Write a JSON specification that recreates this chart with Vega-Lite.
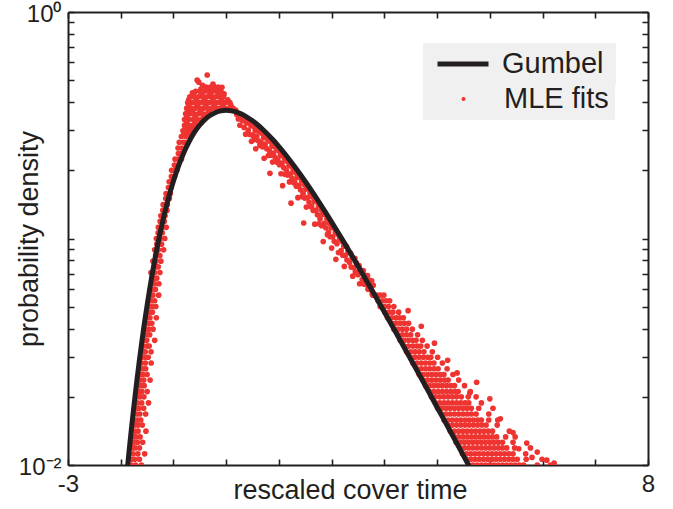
{
"$schema":"https://vega.github.io/schema/vega-lite/v6.json",
"width":580,"height":453,
"autosize":{"type":"none"},
"padding":{"left":68,"top":12,"right":25,"bottom":44},
"background":"white",
"config":{"view":{"stroke":null},
"axis":{"domainColor":"#231f20","domainWidth":2,"labelFont":"Liberation Sans","labelFontSize":24,"labelColor":"#231f20","zindex":1,"labelFlush":false,"labelOverlap":false,"labelBound":false,"titleFont":"Liberation Sans","titleFontSize":27,"titleFontWeight":"normal","titleColor":"#231f20"},
"legend":{"labelFont":"Liberation Sans","labelFontSize":29,"labelColor":"#231f20","fillColor":"#f0f0f0","strokeColor":null,"padding":6,"clipHeight":30,"title":null}},
"datasets":{
"curve":[{"x":-1.9,"y":0.00834},{"x":-1.87,"y":0.00988},{"x":-1.85,"y":0.0110},{"x":-1.8,"y":0.01426},{"x":-1.75,"y":0.01822},{"x":-1.7,"y":0.02297},{"x":-1.65,"y":0.02853},{"x":-1.6,"y":0.03498},{"x":-1.55,"y":0.04238},{"x":-1.5,"y":0.05071},{"x":-1.45,"y":0.06004},{"x":-1.4,"y":0.07028},{"x":-1.35,"y":0.0815},{"x":-1.3,"y":0.09354},{"x":-1.25,"y":0.1065},{"x":-1.2,"y":0.12},{"x":-1.15,"y":0.1343},{"x":-1.1,"y":0.149},{"x":-1.0,"y":0.1794},{"x":-0.9,"y":0.2102},{"x":-0.8,"y":0.2404},{"x":-0.7,"y":0.2688},{"x":-0.6,"y":0.2946},{"x":-0.5,"y":0.317},{"x":-0.4,"y":0.3356},{"x":-0.3,"y":0.35},{"x":-0.2,"y":0.3601},{"x":-0.1,"y":0.366},{"x":0,"y":0.3679},{"x":0.1,"y":0.3661},{"x":0.2,"y":0.3611},{"x":0.3,"y":0.3532},{"x":0.4,"y":0.3429},{"x":0.5,"y":0.3307},{"x":0.6,"y":0.317},{"x":0.7,"y":0.3022},{"x":0.8,"y":0.2867},{"x":0.9,"y":0.2708},{"x":1.0,"y":0.2546},{"x":1.1,"y":0.2386},{"x":1.2,"y":0.2229},{"x":1.3,"y":0.2075},{"x":1.4,"y":0.1927},{"x":1.5,"y":0.1785},{"x":1.6,"y":0.165},{"x":1.7,"y":0.1522},{"x":1.8,"y":0.1401},{"x":1.9,"y":0.1288},{"x":2.0,"y":0.1182},{"x":2.25,"y":0.0949},{"x":2.5,"y":0.0756},{"x":2.75,"y":0.06},{"x":3.0,"y":0.0474},{"x":3.25,"y":0.0373},{"x":3.5,"y":0.0293},{"x":3.75,"y":0.023},{"x":4.0,"y":0.018},{"x":4.25,"y":0.0141},{"x":4.5,"y":0.011},{"x":4.75,"y":0.00858}],
"pts":[
{"x":-1.797,"y":0.01},{"x":-1.717,"y":0.01},{"x":-1.607,"y":0.01},
{"x":-1.796,"y":0.0106},{"x":-1.736,"y":0.0106},{"x":-1.646,"y":0.0106},
{"x":-1.766,"y":0.0112},{"x":-1.676,"y":0.0112},{"x":-1.546,"y":0.0112},
{"x":-1.775,"y":0.0119},{"x":-1.725,"y":0.0119},{"x":-1.645,"y":0.0119},
{"x":-1.754,"y":0.0126},{"x":-1.684,"y":0.0126},{"x":-1.584,"y":0.0126},
{"x":-1.763,"y":0.0133},{"x":-1.713,"y":0.0133},{"x":-1.633,"y":0.0133},
{"x":-1.732,"y":0.0141},{"x":-1.672,"y":0.0141},{"x":-1.522,"y":0.0141},
{"x":-1.731,"y":0.015},{"x":-1.671,"y":0.015},{"x":-1.591,"y":0.015},
{"x":-1.73,"y":0.0158},{"x":-1.68,"y":0.0158},{"x":-1.62,"y":0.0158},
{"x":-1.698,"y":0.0168},{"x":-1.638,"y":0.0168},{"x":-1.528,"y":0.0168},
{"x":-1.705,"y":0.0178},{"x":-1.655,"y":0.0178},{"x":-1.565,"y":0.0178},
{"x":-1.683,"y":0.0188},{"x":-1.603,"y":0.0188},{"x":-1.473,"y":0.0188},
{"x":-1.68,"y":0.02},{"x":-1.63,"y":0.02},{"x":-1.56,"y":0.02},
{"x":-1.658,"y":0.0211},{"x":-1.598,"y":0.0211},{"x":-1.498,"y":0.0211},
{"x":-1.655,"y":0.0224},{"x":-1.615,"y":0.0224},{"x":-1.555,"y":0.0224},
{"x":-1.633,"y":0.0237},{"x":-1.563,"y":0.0237},{"x":-1.443,"y":0.0237},
{"x":-1.63,"y":0.0251},{"x":-1.58,"y":0.0251},{"x":-1.5,"y":0.0251},
{"x":-1.626,"y":0.0266},{"x":-1.576,"y":0.0266},{"x":-1.526,"y":0.0266},
{"x":-1.603,"y":0.0282},{"x":-1.533,"y":0.0282},{"x":-1.423,"y":0.0282},
{"x":-1.599,"y":0.0299},{"x":-1.539,"y":0.0299},{"x":-1.479,"y":0.0299},
{"x":-1.575,"y":0.0316},{"x":-1.535,"y":0.0316},{"x":-1.425,"y":0.0316},
{"x":-1.57,"y":0.0335},{"x":-1.5,"y":0.0335},{"x":-1.46,"y":0.0335},
{"x":-1.546,"y":0.0355},{"x":-1.506,"y":0.0355},{"x":-1.356,"y":0.0355},
{"x":-1.551,"y":0.0376},{"x":-1.501,"y":0.0376},{"x":-1.451,"y":0.0376},
{"x":-1.527,"y":0.0398},{"x":-1.467,"y":0.0398},{"x":-1.387,"y":0.0398},
{"x":-1.521,"y":0.0422},{"x":-1.471,"y":0.0422},{"x":-1.411,"y":0.0422},
{"x":-1.495,"y":0.0447},{"x":-1.445,"y":0.0447},{"x":-1.325,"y":0.0447},
{"x":-1.49,"y":0.0473},{"x":-1.45,"y":0.0473},{"x":-1.4,"y":0.0473},
{"x":-1.464,"y":0.0501},{"x":-1.404,"y":0.0501},{"x":-1.334,"y":0.0501},
{"x":-1.467,"y":0.0531},{"x":-1.417,"y":0.0531},{"x":-1.357,"y":0.0531},
{"x":-1.44,"y":0.0562},{"x":-1.39,"y":0.0562},{"x":-1.28,"y":0.0562},
{"x":-1.433,"y":0.0596},{"x":-1.393,"y":0.0596},{"x":-1.343,"y":0.0596},
{"x":-1.406,"y":0.0631},{"x":-1.356,"y":0.0631},{"x":-1.276,"y":0.0631},
{"x":-1.407,"y":0.0668},{"x":-1.367,"y":0.0668},{"x":-1.317,"y":0.0668},
{"x":-1.427,"y":0.0708},{"x":-1.357,"y":0.0708},{"x":-1.257,"y":0.0708},
{"x":-1.368,"y":0.075},{"x":-1.318,"y":0.075},{"x":-1.288,"y":0.075},
{"x":-1.389,"y":0.0794},{"x":-1.329,"y":0.0794},{"x":-1.239,"y":0.0794},
{"x":-1.338,"y":0.0841},{"x":-1.288,"y":0.0841},{"x":-1.258,"y":0.0841},
{"x":-1.357,"y":0.0891},{"x":-1.287,"y":0.0891},{"x":-1.187,"y":0.0891},
{"x":-1.316,"y":0.0944},{"x":-1.256,"y":0.0944},{"x":-1.226,"y":0.0944},
{"x":-1.325,"y":0.1},{"x":-1.245,"y":0.1},{"x":-1.165,"y":0.1},
{"x":-1.291,"y":0.106},{"x":-1.211,"y":0.106},
{"x":-1.287,"y":0.112},{"x":-1.207,"y":0.112},{"x":-1.137,"y":0.112},
{"x":-1.253,"y":0.119},{"x":-1.173,"y":0.119},
{"x":-1.239,"y":0.126},{"x":-1.159,"y":0.126},
{"x":-1.202,"y":0.133},{"x":-1.122,"y":0.133},
{"x":-1.195,"y":0.141},{"x":-1.115,"y":0.141},
{"x":-1.147,"y":0.15},{"x":-1.077,"y":0.15},
{"x":-1.14,"y":0.158},{"x":-1.06,"y":0.158},
{"x":-1.096,"y":0.168},{"x":-1.046,"y":0.168},
{"x":-1.082,"y":0.178},{"x":-1.022,"y":0.178},
{"x":-1.039,"y":0.188},{"x":-0.979,"y":0.188},
{"x":-1.035,"y":0.2},{"x":-0.975,"y":0.2},{"x":-0.935,"y":0.2},
{"x":-0.982,"y":0.211},{"x":-0.922,"y":0.211},
{"x":-0.969,"y":0.224},{"x":-0.899,"y":0.224},{"x":-0.849,"y":0.224},
{"x":-0.906,"y":0.237},{"x":-0.846,"y":0.237},
{"x":-0.913,"y":0.251},{"x":-0.843,"y":0.251},{"x":-0.783,"y":0.251},
{"x":-0.89,"y":0.266},{"x":-0.81,"y":0.266},{"x":-0.74,"y":0.266},
{"x":-0.85,"y":0.282},{"x":-0.77,"y":0.282},{"x":-0.69,"y":0.282},
{"x":-0.8,"y":0.29},{"x":-0.72,"y":0.29},
{"x":-0.82,"y":0.299},{"x":-0.74,"y":0.299},{"x":-0.66,"y":0.299},
{"x":-0.78,"y":0.307},{"x":-0.7,"y":0.307},{"x":-0.62,"y":0.307},
{"x":-0.79,"y":0.316},{"x":-0.71,"y":0.316},{"x":-0.63,"y":0.316},{"x":-0.55,"y":0.316},
{"x":-0.75,"y":0.325},{"x":-0.59,"y":0.325},{"x":-0.47,"y":0.325},
{"x":-0.79,"y":0.335},{"x":-0.71,"y":0.335},{"x":-0.63,"y":0.335},{"x":-0.55,"y":0.335},{"x":-0.47,"y":0.335},
{"x":-0.75,"y":0.345},{"x":-0.59,"y":0.345},{"x":-0.43,"y":0.345},
{"x":-0.77,"y":0.355},{"x":-0.69,"y":0.355},{"x":-0.61,"y":0.355},{"x":-0.53,"y":0.355},{"x":-0.45,"y":0.355},{"x":-0.37,"y":0.355},{"x":-0.29,"y":0.355},
{"x":-0.73,"y":0.366},{"x":-0.65,"y":0.366},{"x":-0.49,"y":0.366},{"x":-0.33,"y":0.366},{"x":-0.17,"y":0.366},
{"x":-0.75,"y":0.376},{"x":-0.67,"y":0.376},{"x":-0.59,"y":0.376},{"x":-0.51,"y":0.376},{"x":-0.43,"y":0.376},{"x":-0.35,"y":0.376},{"x":-0.27,"y":0.376},{"x":-0.19,"y":0.376},{"x":-0.11,"y":0.376},{"x":-0.03,"y":0.376},{"x":0.05,"y":0.376},{"x":0.13,"y":0.376},
{"x":-0.71,"y":0.387},{"x":-0.55,"y":0.387},{"x":-0.39,"y":0.387},{"x":-0.23,"y":0.387},{"x":-0.07,"y":0.387},{"x":0.09,"y":0.387},
{"x":-0.73,"y":0.398},{"x":-0.65,"y":0.398},{"x":-0.57,"y":0.398},{"x":-0.49,"y":0.398},{"x":-0.41,"y":0.398},{"x":-0.33,"y":0.398},{"x":-0.25,"y":0.398},{"x":-0.17,"y":0.398},{"x":-0.09,"y":0.398},{"x":-0.01,"y":0.398},{"x":0.07,"y":0.398},
{"x":-0.71,"y":0.41},{"x":-0.57,"y":0.41},{"x":-0.41,"y":0.41},{"x":-0.25,"y":0.41},{"x":-0.09,"y":0.41},{"x":0.03,"y":0.41},
{"x":-0.69,"y":0.422},{"x":-0.61,"y":0.422},{"x":-0.53,"y":0.422},{"x":-0.45,"y":0.422},{"x":-0.37,"y":0.422},{"x":-0.29,"y":0.422},{"x":-0.21,"y":0.422},{"x":-0.13,"y":0.422},{"x":-0.05,"y":0.422},
{"x":-0.62,"y":0.435},{"x":-0.46,"y":0.435},{"x":-0.3,"y":0.435},{"x":-0.14,"y":0.435},{"x":-0.04,"y":0.435},
{"x":-0.58,"y":0.447},{"x":-0.5,"y":0.447},{"x":-0.42,"y":0.447},{"x":-0.34,"y":0.447},{"x":-0.26,"y":0.447},{"x":-0.18,"y":0.447},{"x":-0.1,"y":0.447},
{"x":-0.48,"y":0.457},{"x":-0.32,"y":0.457},{"x":-0.2,"y":0.457},
{"x":-0.38,"y":0.466},{"x":-0.3,"y":0.466},{"x":-0.22,"y":0.466},{"x":-0.15,"y":0.466},
{"x":-0.55,"y":0.5},{"x":-0.52,"y":0.49},{"x":-0.36,"y":0.527},{"x":-0.64,"y":0.44},{"x":-0.45,"y":0.475},{"x":-0.25,"y":0.48},{"x":-0.08,"y":0.465},{"x":-0.7,"y":0.4},
{"x":0.2,"y":0.3528},{"x":0.23,"y":0.3369},{"x":0.18,"y":0.3694},
{"x":0.28,"y":0.3467},{"x":0.31,"y":0.3311},{"x":0.26,"y":0.3162},
{"x":0.36,"y":0.3392},{"x":0.39,"y":0.3239},{"x":0.34,"y":0.3094},{"x":0.37,"y":0.2889},
{"x":0.44,"y":0.3304},{"x":0.47,"y":0.3155},{"x":0.42,"y":0.3013},{"x":0.45,"y":0.2878},{"x":0.48,"y":0.2685},
{"x":0.52,"y":0.3133},{"x":0.55,"y":0.2992},{"x":0.5,"y":0.2858},{"x":0.53,"y":0.273},{"x":0.56,"y":0.249},
{"x":0.6,"y":0.3097},{"x":0.63,"y":0.2958},{"x":0.58,"y":0.2824},{"x":0.61,"y":0.2698},{"x":0.64,"y":0.2577},
{"x":0.68,"y":0.2916},{"x":0.71,"y":0.2784},{"x":0.66,"y":0.2659},{"x":0.69,"y":0.254},{"x":0.72,"y":0.2262},
{"x":0.76,"y":0.2863},{"x":0.79,"y":0.2734},{"x":0.74,"y":0.2611},{"x":0.77,"y":0.2493},{"x":0.8,"y":0.2326},
{"x":0.84,"y":0.2677},{"x":0.87,"y":0.2556},{"x":0.82,"y":0.2441},{"x":0.85,"y":0.2332},{"x":0.88,"y":0.2175},{"x":0.83,"y":0.194},
{"x":0.92,"y":0.2613},{"x":0.95,"y":0.2496},{"x":0.9,"y":0.2383},{"x":0.93,"y":0.2276},{"x":0.96,"y":0.2175},
{"x":1.0,"y":0.2431},{"x":1.03,"y":0.2322},{"x":0.98,"y":0.2218},{"x":1.01,"y":0.2118},{"x":1.04,"y":0.1932},
{"x":1.08,"y":0.2361},{"x":1.11,"y":0.2255},{"x":1.06,"y":0.2154},{"x":1.09,"y":0.2057},{"x":1.12,"y":0.1919},{"x":1.07,"y":0.1711},
{"x":1.16,"y":0.2188},{"x":1.19,"y":0.2089},{"x":1.14,"y":0.1995},{"x":1.17,"y":0.1906},{"x":1.2,"y":0.1778},
{"x":1.24,"y":0.2117},{"x":1.27,"y":0.2022},{"x":1.22,"y":0.1931},{"x":1.25,"y":0.1844},{"x":1.28,"y":0.1762},{"x":1.23,"y":0.1432},
{"x":1.32,"y":0.1953},{"x":1.35,"y":0.1865},{"x":1.3,"y":0.1781},{"x":1.33,"y":0.1701},{"x":1.36,"y":0.1515},
{"x":1.4,"y":0.1883},{"x":1.43,"y":0.1798},{"x":1.38,"y":0.1717},{"x":1.41,"y":0.164},{"x":1.44,"y":0.153},
{"x":1.48,"y":0.1731},{"x":1.51,"y":0.1653},{"x":1.46,"y":0.1579},{"x":1.49,"y":0.1508},{"x":1.52,"y":0.1376},{"x":1.47,"y":0.1171},
{"x":1.56,"y":0.1664},{"x":1.59,"y":0.1589},{"x":1.54,"y":0.1517},{"x":1.57,"y":0.1449},{"x":1.6,"y":0.1385},
{"x":1.64,"y":0.1526},{"x":1.67,"y":0.1457},{"x":1.62,"y":0.1392},{"x":1.65,"y":0.133},{"x":1.68,"y":0.1157},
{"x":1.72,"y":0.1463},{"x":1.75,"y":0.1397},{"x":1.7,"y":0.1334},{"x":1.73,"y":0.1274},{"x":1.76,"y":0.1162},
{"x":1.8,"y":0.1338},{"x":1.83,"y":0.1278},{"x":1.78,"y":0.122},{"x":1.81,"y":0.1139},{"x":1.84,"y":0.0969},
{"x":1.88,"y":0.128},{"x":1.91,"y":0.1222},{"x":1.86,"y":0.1167},{"x":1.89,"y":0.1115},{"x":1.92,"y":0.104},
{"x":1.96,"y":0.1169},{"x":1.99,"y":0.1116},{"x":1.94,"y":0.1066},{"x":1.97,"y":0.1018},{"x":2.0,"y":0.0907},
{"x":2.04,"y":0.1116},{"x":2.07,"y":0.1065},{"x":2.02,"y":0.1018},{"x":2.05,"y":0.0972},{"x":2.08,"y":0.0809},
{"x":2.12,"y":0.1041},{"x":2.15,"y":0.0994},{"x":2.1,"y":0.0949},{"x":2.13,"y":0.0866},
{"x":2.2,"y":0.0969},{"x":2.23,"y":0.0926},{"x":2.18,"y":0.0884},{"x":2.21,"y":0.0844},{"x":2.24,"y":0.0753},
{"x":2.28,"y":0.0923},{"x":2.31,"y":0.0881},{"x":2.26,"y":0.0842},{"x":2.29,"y":0.0804},
{"x":2.36,"y":0.0859},{"x":2.39,"y":0.082},{"x":2.34,"y":0.0783},{"x":2.37,"y":0.0748},{"x":2.4,"y":0.0682},
{"x":2.44,"y":0.0817},{"x":2.47,"y":0.0781},{"x":2.42,"y":0.0745},{"x":2.45,"y":0.0712},
{"x":2.52,"y":0.0759},{"x":2.55,"y":0.0725},{"x":2.5,"y":0.0692},{"x":2.53,"y":0.0631},
{"x":2.6,"y":0.0722},{"x":2.63,"y":0.069},{"x":2.58,"y":0.0659},{"x":2.61,"y":0.0629},
{"x":2.68,"y":0.0686},{"x":2.71,"y":0.0655},{"x":2.66,"y":0.0625},{"x":2.69,"y":0.0597},
{"x":2.76,"y":0.0651},{"x":2.79,"y":0.0622},{"x":2.74,"y":0.0594},{"x":2.77,"y":0.0567},
{"x":2.78,"y":0.0562},{"x":2.86,"y":0.0562},{"x":2.92,"y":0.0562},{"x":2.99,"y":0.0562},
{"x":2.88,"y":0.0531},{"x":2.96,"y":0.0531},{"x":3.03,"y":0.0531},{"x":3.1,"y":0.0531},
{"x":2.92,"y":0.0501},{"x":3.0,"y":0.0501},{"x":3.08,"y":0.0501},{"x":3.18,"y":0.0501},
{"x":3.01,"y":0.0473},{"x":3.09,"y":0.0473},{"x":3.16,"y":0.0473},{"x":3.27,"y":0.0473},
{"x":3.06,"y":0.0447},{"x":3.14,"y":0.0447},{"x":3.22,"y":0.0447},{"x":3.29,"y":0.0447},{"x":3.36,"y":0.0447},
{"x":3.14,"y":0.0422},{"x":3.22,"y":0.0422},{"x":3.3,"y":0.0422},{"x":3.38,"y":0.0422},{"x":3.46,"y":0.0422},
{"x":3.18,"y":0.0398},{"x":3.26,"y":0.0398},{"x":3.34,"y":0.0398},{"x":3.42,"y":0.0398},{"x":3.53,"y":0.0398},
{"x":3.26,"y":0.0376},{"x":3.34,"y":0.0376},{"x":3.42,"y":0.0376},{"x":3.5,"y":0.0376},{"x":3.63,"y":0.0376},
{"x":3.3,"y":0.0355},{"x":3.38,"y":0.0355},{"x":3.46,"y":0.0355},{"x":3.54,"y":0.0355},{"x":3.6,"y":0.0355},{"x":3.72,"y":0.0355},
{"x":3.38,"y":0.0335},{"x":3.46,"y":0.0335},{"x":3.54,"y":0.0335},{"x":3.62,"y":0.0335},{"x":3.69,"y":0.0335},{"x":3.81,"y":0.0335},
{"x":3.42,"y":0.0316},{"x":3.5,"y":0.0316},{"x":3.58,"y":0.0316},{"x":3.66,"y":0.0316},{"x":3.75,"y":0.0316},{"x":3.91,"y":0.0316},
{"x":3.5,"y":0.0299},{"x":3.58,"y":0.0299},{"x":3.66,"y":0.0299},{"x":3.74,"y":0.0299},{"x":3.82,"y":0.0299},{"x":3.88,"y":0.0299},{"x":4.01,"y":0.0299},
{"x":3.54,"y":0.0282},{"x":3.62,"y":0.0282},{"x":3.7,"y":0.0282},{"x":3.78,"y":0.0282},{"x":3.86,"y":0.0282},{"x":3.94,"y":0.0282},{"x":4.1,"y":0.0282},
{"x":3.62,"y":0.0266},{"x":3.7,"y":0.0266},{"x":3.78,"y":0.0266},{"x":3.86,"y":0.0266},{"x":3.94,"y":0.0266},{"x":4.02,"y":0.0266},{"x":4.19,"y":0.0266},
{"x":3.66,"y":0.0251},{"x":3.74,"y":0.0251},{"x":3.82,"y":0.0251},{"x":3.9,"y":0.0251},{"x":3.98,"y":0.0251},{"x":4.06,"y":0.0251},{"x":4.13,"y":0.0251},{"x":4.3,"y":0.0251},
{"x":3.74,"y":0.0237},{"x":3.82,"y":0.0237},{"x":3.9,"y":0.0237},{"x":3.98,"y":0.0237},{"x":4.06,"y":0.0237},{"x":4.14,"y":0.0237},{"x":4.21,"y":0.0237},{"x":4.41,"y":0.0237},
{"x":3.78,"y":0.0224},{"x":3.86,"y":0.0224},{"x":3.94,"y":0.0224},{"x":4.02,"y":0.0224},{"x":4.1,"y":0.0224},{"x":4.18,"y":0.0224},{"x":4.26,"y":0.0224},{"x":4.33,"y":0.0224},{"x":4.52,"y":0.0224},
{"x":3.86,"y":0.0211},{"x":3.94,"y":0.0211},{"x":4.02,"y":0.0211},{"x":4.1,"y":0.0211},{"x":4.18,"y":0.0211},{"x":4.26,"y":0.0211},{"x":4.34,"y":0.0211},{"x":4.4,"y":0.0211},{"x":4.63,"y":0.0211},
{"x":3.89,"y":0.02},{"x":3.97,"y":0.02},{"x":4.05,"y":0.02},{"x":4.13,"y":0.02},{"x":4.21,"y":0.02},{"x":4.29,"y":0.02},{"x":4.37,"y":0.02},{"x":4.46,"y":0.02},{"x":4.59,"y":0.02},{"x":4.74,"y":0.02},
{"x":3.97,"y":0.0188},{"x":4.05,"y":0.0188},{"x":4.13,"y":0.0188},{"x":4.21,"y":0.0188},{"x":4.29,"y":0.0188},{"x":4.37,"y":0.0188},{"x":4.45,"y":0.0188},{"x":4.53,"y":0.0188},{"x":4.6,"y":0.0188},{"x":4.84,"y":0.0188},
{"x":4.01,"y":0.0178},{"x":4.09,"y":0.0178},{"x":4.17,"y":0.0178},{"x":4.25,"y":0.0178},{"x":4.33,"y":0.0178},{"x":4.41,"y":0.0178},{"x":4.49,"y":0.0178},{"x":4.57,"y":0.0178},{"x":4.65,"y":0.0178},{"x":4.79,"y":0.0178},{"x":5.06,"y":0.0178},
{"x":4.09,"y":0.0168},{"x":4.17,"y":0.0168},{"x":4.25,"y":0.0168},{"x":4.33,"y":0.0168},{"x":4.41,"y":0.0168},{"x":4.49,"y":0.0168},{"x":4.57,"y":0.0168},{"x":4.65,"y":0.0168},{"x":4.74,"y":0.0168},{"x":4.98,"y":0.0168},
{"x":4.13,"y":0.0158},{"x":4.21,"y":0.0158},{"x":4.29,"y":0.0158},{"x":4.37,"y":0.0158},{"x":4.45,"y":0.0158},{"x":4.53,"y":0.0158},{"x":4.61,"y":0.0158},{"x":4.69,"y":0.0158},{"x":4.77,"y":0.0158},{"x":4.84,"y":0.0158},{"x":4.98,"y":0.0158},{"x":5.15,"y":0.0158},
{"x":4.21,"y":0.015},{"x":4.29,"y":0.015},{"x":4.37,"y":0.015},{"x":4.45,"y":0.015},{"x":4.53,"y":0.015},{"x":4.61,"y":0.015},{"x":4.69,"y":0.015},{"x":4.77,"y":0.015},{"x":4.85,"y":0.015},{"x":4.93,"y":0.015},{"x":5.14,"y":0.015},
{"x":4.25,"y":0.0141},{"x":4.33,"y":0.0141},{"x":4.41,"y":0.0141},{"x":4.49,"y":0.0141},{"x":4.57,"y":0.0141},{"x":4.65,"y":0.0141},{"x":4.73,"y":0.0141},{"x":4.81,"y":0.0141},{"x":4.89,"y":0.0141},{"x":4.97,"y":0.0141},{"x":5.05,"y":0.0141},{"x":5.37,"y":0.0141},
{"x":4.33,"y":0.0133},{"x":4.41,"y":0.0133},{"x":4.49,"y":0.0133},{"x":4.57,"y":0.0133},{"x":4.65,"y":0.0133},{"x":4.73,"y":0.0133},{"x":4.81,"y":0.0133},{"x":4.89,"y":0.0133},{"x":4.97,"y":0.0133},{"x":5.05,"y":0.0133},{"x":5.13,"y":0.0133},{"x":5.3,"y":0.0133},{"x":5.48,"y":0.0133},
{"x":4.36,"y":0.0126},{"x":4.44,"y":0.0126},{"x":4.52,"y":0.0126},{"x":4.6,"y":0.0126},{"x":4.68,"y":0.0126},{"x":4.76,"y":0.0126},{"x":4.84,"y":0.0126},{"x":4.92,"y":0.0126},{"x":5.0,"y":0.0126},{"x":5.08,"y":0.0126},{"x":5.16,"y":0.0126},{"x":5.24,"y":0.0126},{"x":5.44,"y":0.0126},
{"x":4.44,"y":0.0119},{"x":4.52,"y":0.0119},{"x":4.6,"y":0.0119},{"x":4.68,"y":0.0119},{"x":4.76,"y":0.0119},{"x":4.84,"y":0.0119},{"x":4.92,"y":0.0119},{"x":5.0,"y":0.0119},{"x":5.08,"y":0.0119},{"x":5.16,"y":0.0119},{"x":5.24,"y":0.0119},{"x":5.32,"y":0.0119},{"x":5.47,"y":0.0119},{"x":5.77,"y":0.0119},
{"x":4.48,"y":0.0112},{"x":4.56,"y":0.0112},{"x":4.64,"y":0.0112},{"x":4.72,"y":0.0112},{"x":4.8,"y":0.0112},{"x":4.88,"y":0.0112},{"x":4.96,"y":0.0112},{"x":5.04,"y":0.0112},{"x":5.12,"y":0.0112},{"x":5.2,"y":0.0112},{"x":5.28,"y":0.0112},{"x":5.36,"y":0.0112},{"x":5.44,"y":0.0112},{"x":5.68,"y":0.0112},
{"x":4.56,"y":0.0106},{"x":4.64,"y":0.0106},{"x":4.72,"y":0.0106},{"x":4.8,"y":0.0106},{"x":4.88,"y":0.0106},{"x":4.96,"y":0.0106},{"x":5.04,"y":0.0106},{"x":5.12,"y":0.0106},{"x":5.2,"y":0.0106},{"x":5.28,"y":0.0106},{"x":5.36,"y":0.0106},{"x":5.44,"y":0.0106},{"x":5.52,"y":0.0106},{"x":5.69,"y":0.0106},{"x":5.99,"y":0.0106},
{"x":4.6,"y":0.01},{"x":4.68,"y":0.01},{"x":4.76,"y":0.01},{"x":4.84,"y":0.01},{"x":4.92,"y":0.01},{"x":5.0,"y":0.01},{"x":5.08,"y":0.01},{"x":5.16,"y":0.01},{"x":5.24,"y":0.01},{"x":5.32,"y":0.01},{"x":5.4,"y":0.01},{"x":5.48,"y":0.01},{"x":5.56,"y":0.01},{"x":5.64,"y":0.01},{"x":5.9,"y":0.01},{"x":6.15,"y":0.01},
{"x":4.38,"y":0.0255},{"x":4.62,"y":0.0208},{"x":4.75,"y":0.0232},{"x":5.2,"y":0.016},{"x":5.44,"y":0.0139},{"x":5.7,"y":0.0125},{"x":5.9,"y":0.0114},{"x":6.08,"y":0.0105},{"x":6.22,"y":0.0102},{"x":5.0,"y":0.0196},{"x":4.2,"y":0.029},{"x":3.95,"y":0.0345},{"x":3.7,"y":0.041},{"x":3.45,"y":0.048},{"x":5.55,"y":0.0118},{"x":5.8,"y":0.0108}
]},
"layer":[
{"data":{"name":"pts"},
 "mark":{"type":"point","filled":true,"size":32,"opacity":1,"strokeWidth":0,"clip":true},
 "encoding":{
  "x":{"field":"x","type":"quantitative","scale":{"domain":[-3,8],"nice":false,"zero":false},
       "axis":{"orient":"top","ticks":false,"labels":false,"grid":false,"title":null}},
  "y":{"field":"y","type":"quantitative","scale":{"type":"log","domain":[0.01,1],"nice":false},
       "axis":{"orient":"right","ticks":false,"labels":false,"grid":false,"title":null}},
  "fill":{"datum":"MLE fits","type":"nominal",
    "scale":{"domain":["MLE fits"],"range":["#ee3431"]},
    "legend":{"orient":"none","legendX":355,"legendY":66,"symbolType":"circle","symbolSize":16,"symbolStrokeWidth":0,"symbolOffset":20,"labelOffset":26}}
 }},
{"data":{"name":"curve"},
 "mark":{"type":"line","strokeWidth":5,"clip":true,"interpolate":"monotone"},
 "encoding":{
  "x":{"field":"x","type":"quantitative",
       "axis":{"orient":"bottom","ticks":false,"grid":true,"gridColor":"#231f20","gridWidth":1.6,"gridOpacity":1,"gridDash":[6,441,6,1000],"values":[-3,-2,-1,0,1,2,3,4,5,6,7,8],"labelExpr":"datum.value == -3 ? '-3' : (datum.value == 8 ? '8' : '')","labelPadding":7,"title":"rescaled cover time","titleX":282,"titleY":33,"titleBaseline":"alphabetic"}},
  "y":{"field":"y","type":"quantitative",
       "axis":{"orient":"left","ticks":false,"grid":true,"gridColor":"#231f20","gridWidth":1.6,"gridOpacity":1,"gridDash":[6,568,6,1000],"values":[0.01,0.02,0.03,0.04,0.05,0.06,0.07,0.08,0.09,0.1,0.2,0.3,0.4,0.5,0.6,0.7,0.8,0.9,1],"labelExpr":"datum.value == 1 ? '10⁰' : (datum.value == 0.01 ? '10⁻²' : '')","labelPadding":7,"labelOffset":2,"title":"probability density","titleX":-31,"titleBaseline":"alphabetic"}},
  "stroke":{"datum":"Gumbel","type":"nominal",
    "scale":{"domain":["Gumbel"],"range":["#231f20"]},
    "legend":{"orient":"none","legendX":355,"legendY":31,"symbolType":"stroke","symbolSize":2601,"symbolStrokeWidth":5,"symbolOffset":6,"labelOffset":11,"labelExpr":"'Gumbel\u2009\u200b'"}}
 }}
],
"resolve":{"axis":{"x":"independent","y":"independent"}}
}
